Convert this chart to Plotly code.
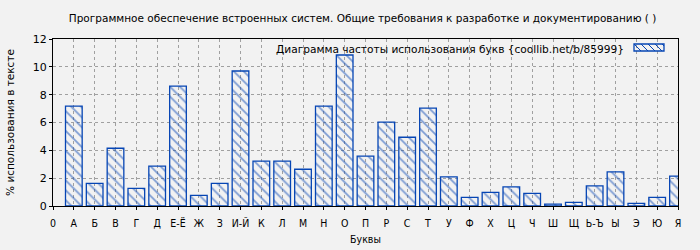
import plotly.graph_objects as go

tick_labels = ["0", "А", "Б", "В", "Г", "Д", "Е-Ё", "Ж", "З", "И-Й", "К", "Л", "М", "Н",
               "О", "П", "Р", "С", "Т", "У", "Ф", "Х", "Ц", "Ч", "Ш", "Щ", "Ь-Ъ", "Ы",
               "Э", "Ю", "Я"]
letters = tick_labels[1:]
values = [7.18, 1.63, 4.15, 1.27, 2.86, 8.62, 0.77, 1.63, 9.70, 3.22, 3.22, 2.64, 7.18,
          10.85, 3.58, 6.02, 4.94, 7.03, 2.09, 0.62, 0.98, 1.37, 0.91, 0.14, 0.26, 1.44,
          2.45, 0.19, 0.62, 2.14]

title_text = "Программное обеспечение встроенных систем. Общие требования к разработке и документированию ( )"
legend_text = "Диаграмма частоты использования букв {coollib.net/b/85999}"

blue = "#0645b4"
bg = "#f2f2f2"

positions = list(range(1, len(letters) + 1))

fig = go.Figure()
fig.add_trace(go.Bar(
    x=positions, y=values, width=0.8, name=legend_text, showlegend=False,
    marker=dict(color="rgba(0,0,0,0)", line=dict(color=blue, width=1.3),
                pattern=dict(shape="\\", fgcolor=blue, bgcolor="rgba(0,0,0,0)",
                             size=7, solidity=0.25)),
    hovertext=letters,
))

fig.update_layout(
    width=700, height=250,
    margin=dict(l=53, r=22, t=39, b=44),
    paper_bgcolor=bg, plot_bgcolor=bg,
    font=dict(family="DejaVu Sans", size=11, color="#000000"),
    title=dict(text=title_text, x=0.518, xanchor="center", y=0.925, yanchor="middle",
               font=dict(family="DejaVu Sans", size=10.5)),
    showlegend=False,
    bargap=0.2,
)
# legend text and key (decoration)
fig.add_annotation(text=legend_text, xref="paper", yref="paper", x=0.917, xanchor="right",
                   y=0.99, yanchor="top", showarrow=False,
                   font=dict(family="DejaVu Sans", size=10.6))
kx0, kx1, ky0, ky1 = 0.9296, 0.9776, 0.928, 0.970
fig.add_shape(type="rect", xref="paper", yref="paper", x0=kx0, x1=kx1, y0=ky0, y1=ky1,
              line=dict(color=blue, width=1.3), fillcolor="rgba(0,0,0,0)")
kh_px = 7.0
step = 7.0 / 625.0
dx = kh_px / 625.0
hatch = ""
s = kx0 - dx
while s < kx1:
    ax, bx = s, s + dx
    ay, by = ky1, ky0
    if ax < kx0:
        ay = ky1 - (kx0 - ax) / dx * (ky1 - ky0)
        ax = kx0
    if bx > kx1:
        by = ky0 + (bx - kx1) / dx * (ky1 - ky0)
        bx = kx1
    if bx > ax:
        hatch += f"M{ax},{ay}L{bx},{by}"
    s += step
fig.add_shape(type="path", xref="paper", yref="paper", path=hatch,
              line=dict(color=blue, width=1))

fig.update_xaxes(
    range=[0, 30], tickmode="array", tickvals=list(range(0, 31)), ticktext=tick_labels,
    showline=True, linecolor="#000000", linewidth=1, mirror=True,
    ticks="outside", ticklen=3, tickcolor="#000000",
    showgrid=True, gridcolor="#a0a0a0", griddash="dot", gridwidth=1,
    zeroline=False, ticklabelstandoff=4, automargin=False,
    tickfont=dict(family="DejaVu Sans Condensed, DejaVu Sans", size=10.5),
    title=dict(text="Буквы", font=dict(family="DejaVu Sans Condensed, DejaVu Sans", size=10.5), standoff=8),
)
fig.update_yaxes(
    range=[0, 12], tickmode="array", tickvals=[0, 2, 4, 6, 8, 10, 12],
    showline=True, linecolor="#000000", linewidth=1, mirror=True,
    ticks="outside", ticklen=3, tickcolor="#000000",
    showgrid=True, gridcolor="#a0a0a0", griddash="dot", gridwidth=1,
    zeroline=False, automargin=False,
    tickfont=dict(family="DejaVu Sans", size=11),
    title=dict(text="% использования в тексте", font=dict(family="DejaVu Sans", size=10.5), standoff=16),
)

fig.write_html("out.html")
